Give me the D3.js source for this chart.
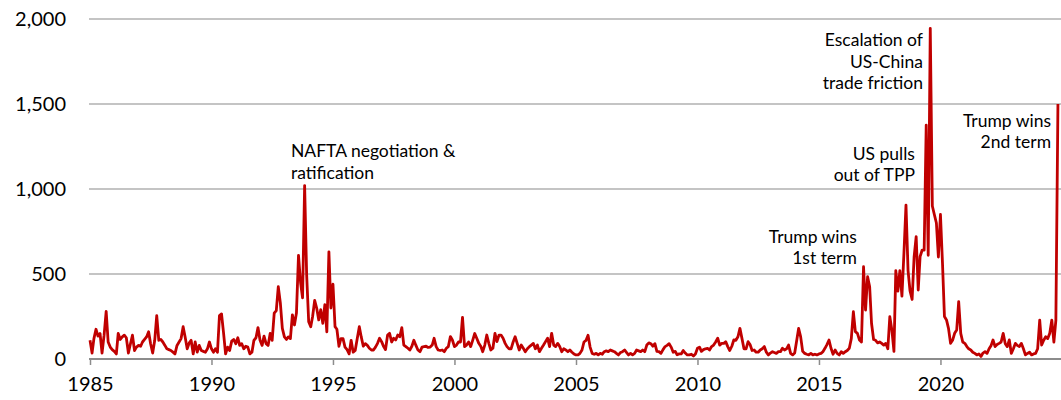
<!DOCTYPE html>
<html>
<head>
    <title>Trade policy uncertainty</title>
    <script src="https://d3js.org/d3.v7.min.js"></script>
    <style>
        body { margin: 0; background: #fff; }
        text { font-family: Lato, "Noto Sans", sans-serif; fill: #000; }
    </style>
</head>
<body>
<div id="chart"></div>

<script>
// monthly index values, Jan 1985 onwards (one row per year)
const startYear = 1985;
const tpu = [
    110, 35, 120, 175, 135, 150, 35, 140, 280, 100, 70, 55,      // 1985
    45, 30, 150, 115, 130, 140, 125, 35, 90, 140, 50, 70,        // 1986
    80, 75, 100, 115, 130, 160, 90, 35, 110, 255, 110, 115,      // 1987
    100, 80, 60, 55, 50, 40, 30, 80, 100, 120, 190, 130,         // 1988
    60, 95, 110, 30, 100, 40, 80, 50, 45, 40, 60, 100,           // 1989
    60, 40, 60, 40, 255, 265, 155, 30, 70, 50, 105, 115,         // 1990
    90, 125, 80, 90, 60, 75, 70, 30, 40, 110, 125, 185,          // 1991
    110, 80, 135, 90, 80, 150, 110, 270, 285, 425, 330, 180,     // 1992
    130, 115, 130, 120, 260, 200, 270, 610, 450, 360, 1020, 500, // 1993
    220, 190, 250, 345, 300, 230, 290, 210, 320, 160, 630, 300,  // 1994
    440, 190, 175, 75, 120, 120, 70, 55, 30, 110, 40, 50,        // 1995
    120, 190, 130, 75, 90, 80, 63, 53, 53, 70, 92, 122,          // 1996
    102, 73, 55, 141, 151, 100, 122, 112, 141, 131, 185, 82,     // 1997
    73, 63, 53, 75, 110, 80, 53, 43, 70, 73, 75, 68,             // 1998
    70, 82, 122, 73, 53, 50, 53, 43, 63, 73, 132, 112,           // 1999
    73, 82, 100, 100, 245, 73, 82, 100, 73, 110, 150, 122,       // 2000
    92, 73, 43, 82, 141, 92, 53, 63, 151, 102, 141, 141,         // 2001
    122, 92, 73, 60, 60, 100, 131, 92, 53, 82, 63, 43,           // 2002
    60, 73, 82, 92, 60, 82, 43, 63, 82, 102, 122, 73,            // 2003
    151, 82, 73, 92, 73, 43, 60, 53, 43, 53, 40, 30,             // 2004
    24, 24, 33, 53, 100, 110, 140, 70, 33, 28, 33, 24,           // 2005
    33, 28, 43, 48, 43, 53, 48, 43, 33, 24, 38, 43,              // 2006
    53, 38, 24, 33, 24, 33, 53, 48, 43, 53, 43, 82,              // 2007
    95, 90, 75, 90, 45, 43, 33, 55, 73, 80, 90, 70,              // 2008
    40, 45, 25, 30, 30, 50, 35, 24, 24, 28, 18, 30,              // 2009
    63, 70, 45, 55, 60, 63, 53, 73, 82, 100, 122, 82,            // 2010
    92, 92, 102, 73, 50, 75, 112, 110, 131, 180, 120, 60,        // 2011
    60, 102, 85, 50, 53, 40, 40, 53, 60, 73, 40, 24,             // 2012
    35, 43, 38, 33, 43, 43, 63, 53, 60, 82, 33, 24,              // 2013
    35, 110, 180, 130, 45, 33, 28, 24, 33, 24, 28, 24,           // 2014
    30, 33, 43, 63, 85, 112, 63, 28, 53, 33, 24, 43,             // 2015
    33, 43, 50, 63, 120, 278, 161, 151, 112, 100, 543, 288,      // 2016
    484, 425, 210, 115, 110, 95, 100, 92, 82, 92, 60, 249,       // 2017
    170, 45, 520, 400, 520, 370, 620, 905, 520, 400, 350, 600,   // 2018
    720, 406, 602, 641, 640, 1376, 610, 1945, 900, 850, 800, 600,// 2019
    850, 560, 250, 230, 180, 92, 110, 151, 170, 337, 151, 100,   // 2020
    92, 73, 60, 53, 40, 33, 24, 30, 15, 35, 43, 33,              // 2021
    60, 80, 112, 73, 85, 92, 100, 151, 90, 73, 112, 33,          // 2022
    60, 92, 80, 73, 92, 60, 24, 33, 40, 24, 30, 33,              // 2023
    60, 229, 82, 110, 131, 120, 151, 229, 100, 229, 1500         // 2024
];

const yTicks = [0, 500, 1000, 1500, 2000];
const xTickYears = [1985, 1990, 1995, 2000, 2005, 2010, 2015, 2020];

// annotation text, anchored at (fractional year, index value of first baseline)
const notes = [
    { lines: ["NAFTA negotiation &", "ratification"], year: 1993.27, value: 1188, anchor: "start" },
    { lines: ["Escalation of", "US-China", "trade friction"], year: 2019.28, value: 1841, anchor: "end" },
    { lines: ["US pulls", "out of TPP"], year: 2018.95, value: 1171, anchor: "end" },
    { lines: ["Trump wins", "1st term"], year: 2016.56, value: 684, anchor: "end" },
    { lines: ["Trump wins", "2nd term"], year: 2024.55, value: 1366, anchor: "end" }
];

const width = 1061, height = 400;
const margin = { top: 19, right: 0, bottom: 41, left: 90 };

const data = tpu.map((v, i) => ({ date: new Date(startYear, i, 1), value: v }));
const yearDate = y => {
    const yr = Math.floor(y);
    const start = new Date(yr, 0, 1), end = new Date(yr + 1, 0, 1);
    return new Date(+start + (y - yr) * (end - start));
};

const svg = d3.select("#chart").append("svg")
    .attr("width", width)
    .attr("height", height);

const x = d3.scaleTime()
    .domain([new Date(1985, 0, 1), new Date(2025, 0, 1)])
    .range([margin.left, 1062]);

const y = d3.scaleLinear()
    .domain([0, 2000])
    .range([height - margin.bottom, margin.top]);

// gridlines
svg.append("g")
    .selectAll("line")
    .data(yTicks.filter(d => d > 0))
    .join("line")
    .attr("x1", margin.left - 1)
    .attr("x2", width)
    .attr("y1", d => y(d))
    .attr("y2", d => y(d))
    .attr("stroke", "#b0b0b0")
    .attr("stroke-width", 1.5);

// y labels
svg.append("g")
    .selectAll("text")
    .data(yTicks)
    .join("text")
    .attr("x", 66)
    .attr("y", d => y(d))
    .attr("dy", "0.36em")
    .attr("text-anchor", "end")
    .style("font-size", "20px")
    .text(d => d3.format(",")(d));

// x axis
const xAxis = svg.append("g")
    .attr("transform", `translate(0,${y(0)})`)
    .call(d3.axisBottom(x)
        .tickValues(xTickYears.map(d => new Date(d, 0, 1)))
        .tickFormat(d3.timeFormat("%Y"))
        .tickSize(6)
        .tickPadding(12));
xAxis.select(".domain")
    .attr("d", `M${margin.left - 1},0H${width}`)
    .attr("stroke", "#8c8c8c")
    .attr("stroke-width", 2);
xAxis.selectAll(".tick line")
    .attr("stroke", "#8c8c8c")
    .attr("stroke-width", 1.5);
xAxis.selectAll(".tick text")
    .style("font-size", "20px")
    .style("font-family", "Lato, 'Noto Sans', sans-serif")
    .attr("fill", "#000");

// series
const line = d3.line()
    .x(d => x(d.date))
    .y(d => y(d.value));

svg.append("path")
    .datum(data)
    .attr("fill", "none")
    .attr("stroke", "#c00000")
    .attr("stroke-width", 2.8)
    .attr("stroke-linejoin", "round")
    .attr("d", line);

// annotations
const noteG = svg.append("g")
    .selectAll("text")
    .data(notes)
    .join("text")
    .attr("text-anchor", d => d.anchor)
    .attr("x", d => x(yearDate(d.year)))
    .attr("y", d => y(d.value))
    .style("font-size", "17.5px");

noteG.selectAll("tspan")
    .data(d => d.lines.map(t => ({ t, x: x(yearDate(d.year)) })))
    .join("tspan")
    .attr("x", d => d.x)
    .attr("dy", (d, i) => i === 0 ? 0 : 21.5)
    .text(d => d.t);
</script>
</body>
</html>
